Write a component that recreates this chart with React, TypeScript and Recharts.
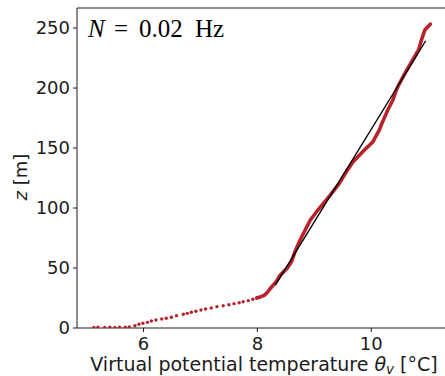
import React from "react";
import { ComposedChart, Line, Scatter, XAxis, YAxis } from "recharts";

// Sparse near-surface samples of the profile (temperature in °C, height in m)
const lowTemp = [5.13, 5.2, 5.32, 5.41, 5.5, 5.58, 5.68, 5.75, 5.85, 5.92, 5.99, 6.07, 6.14, 6.22, 6.32, 6.4, 6.49, 6.58, 6.7, 6.77, 6.84, 6.92, 7.01, 7.09, 7.19, 7.29, 7.4, 7.5, 7.59, 7.68, 7.75, 7.84, 7.92, 7.99];
const lowZ = [0.5, 0.6, 0.5, 0.6, 0.5, 0.6, 0.7, 0.8, 1.9, 3.1, 3.9, 4.7, 5.8, 6.7, 7.5, 8.1, 8.9, 10.3, 11.4, 12.2, 13.1, 13.9, 15.0, 15.8, 16.7, 17.8, 18.6, 19.4, 20.3, 21.1, 21.9, 22.8, 23.9, 25.0];

// Densely sampled part of the profile above the surface layer
const upperTemp = [7.99, 8.06, 8.12, 8.17, 8.22, 8.28, 8.35, 8.4, 8.52, 8.6, 8.66, 8.75, 8.84, 8.93, 9.04, 9.16, 9.28, 9.44, 9.56, 9.68, 9.88, 10.03, 10.14, 10.2, 10.29, 10.38, 10.43, 10.48, 10.59, 10.71, 10.83, 10.89, 10.94, 11.04];
const upperZ = [25.0, 26.1, 27.2, 29.4, 32.5, 35.8, 40.0, 44.0, 49.7, 55.3, 63.6, 73.3, 81.7, 90.0, 96.9, 103.9, 110.8, 120.6, 130.0, 138.6, 148.3, 155.3, 165.0, 172.0, 181.7, 190.0, 197.0, 202.5, 212.2, 221.9, 231.7, 241.4, 248.3, 253.3];

// Linear fit through the stable layer
const fitTemp = [8.316, 10.956];
const fitZ = [35.8, 239.4];

const xTicks = [6, 8, 10];
const yTicks = [0, 50, 100, 150, 200, 250];
const xDomain = [4.833, 11.4];
const yDomain = [0, 266.7];

const zip = (t: number[], z: number[]) => t.map((v, i) => ({ t: v, z: z[i] }));
const lowData = zip(lowTemp, lowZ);
const upperData = zip(upperTemp, upperZ);
const fitData = zip(fitTemp, fitZ);

const RED = "#b8232b";
const INK = "#1c1c1c";
const SANS = "'DejaVu Sans', sans-serif";

const Dot = (props: any) => <circle cx={props.cx} cy={props.cy} r={1.7} fill={RED} />;

const XLabel = (props: any) => {
  const vb = props.viewBox || {};
  const cx = 264;
  const y = (vb.y ?? 328) + 42.5;
  return (
    <text x={cx} y={y} textAnchor="middle" fontFamily={SANS} fontSize={19} fill={INK}>
      Virtual potential temperature{" "}
      <tspan fontStyle="italic">θ</tspan>
      <tspan fontStyle="italic" fontSize={13.5} dy={3}>v</tspan>
      <tspan dy={-3}> [°C]</tspan>
    </text>
  );
};

const YLabel = (props: any) => {
  const vb = props.viewBox || {};
  const cx = 20;
  const cy = (vb.y ?? 8) + (vb.height ?? 320) / 2 + 9;
  return (
    <text
      x={cx}
      y={cy}
      transform={`rotate(-90 ${cx} ${cy})`}
      textAnchor="middle"
      dominantBaseline="central"
      fontFamily={SANS}
      fontSize={18}
      fill={INK}
    >
      <tspan fontStyle="italic">z</tspan> [m]
    </text>
  );
};

export default function App() {
  return (
    <div style={{ position: "absolute", left: 0, top: 0, width: 445, height: 376, overflow: "hidden", background: "#fff" }}>
      <ComposedChart
        width={460}
        height={376}
        margin={{ top: 8, right: 9, bottom: 0, left: 0 }}
        style={{ position: "absolute", left: 0, top: 0 }}
      >
        <XAxis
          type="number"
          dataKey="t"
          domain={xDomain}
          ticks={xTicks}
          allowDataOverflow
          height={48}
          tickSize={4}
          tickMargin={5}
          stroke={INK}
          tick={{ fontFamily: SANS, fontSize: 18, fill: INK }}
          tickLine={{ stroke: INK }}
          label={<XLabel />}
        />
        <YAxis
          type="number"
          dataKey="z"
          domain={yDomain}
          ticks={yTicks}
          allowDataOverflow
          width={77}
          tickSize={4}
          tickMargin={3}
          stroke={INK}
          tick={{ fontFamily: SANS, fontSize: 18, fill: INK }}
          tickLine={{ stroke: INK }}
          label={<YLabel />}
        />
        <Scatter data={lowData} fill={RED} shape={<Dot />} isAnimationActive={false} />
        <Line
          data={upperData}
          dataKey="z"
          type="linear"
          stroke={RED}
          strokeWidth={3.6}
          strokeLinecap="round"
          strokeLinejoin="round"
          dot={false}
          activeDot={false}
          isAnimationActive={false}
        />
        <Line
          data={fitData}
          dataKey="z"
          type="linear"
          stroke="#000"
          strokeWidth={1.4}
          dot={false}
          activeDot={false}
          isAnimationActive={false}
        />
      </ComposedChart>
      {/* top spine of the axes frame and the panel annotation */}
      <svg width={445} height={376} style={{ position: "absolute", left: 0, top: 0, pointerEvents: "none" }}>
        <line x1={77} y1={8} x2={445} y2={8} stroke={INK} strokeWidth={1} />
        <text y={37} fontFamily="'Liberation Serif', serif" fontSize={25} fill="#000">
          <tspan x={88} fontStyle="italic">N</tspan>
          <tspan x={114}>=</tspan>
          <tspan x={139}>0.02</tspan>
          <tspan x={195}>Hz</tspan>
        </text>
      </svg>
    </div>
  );
}
